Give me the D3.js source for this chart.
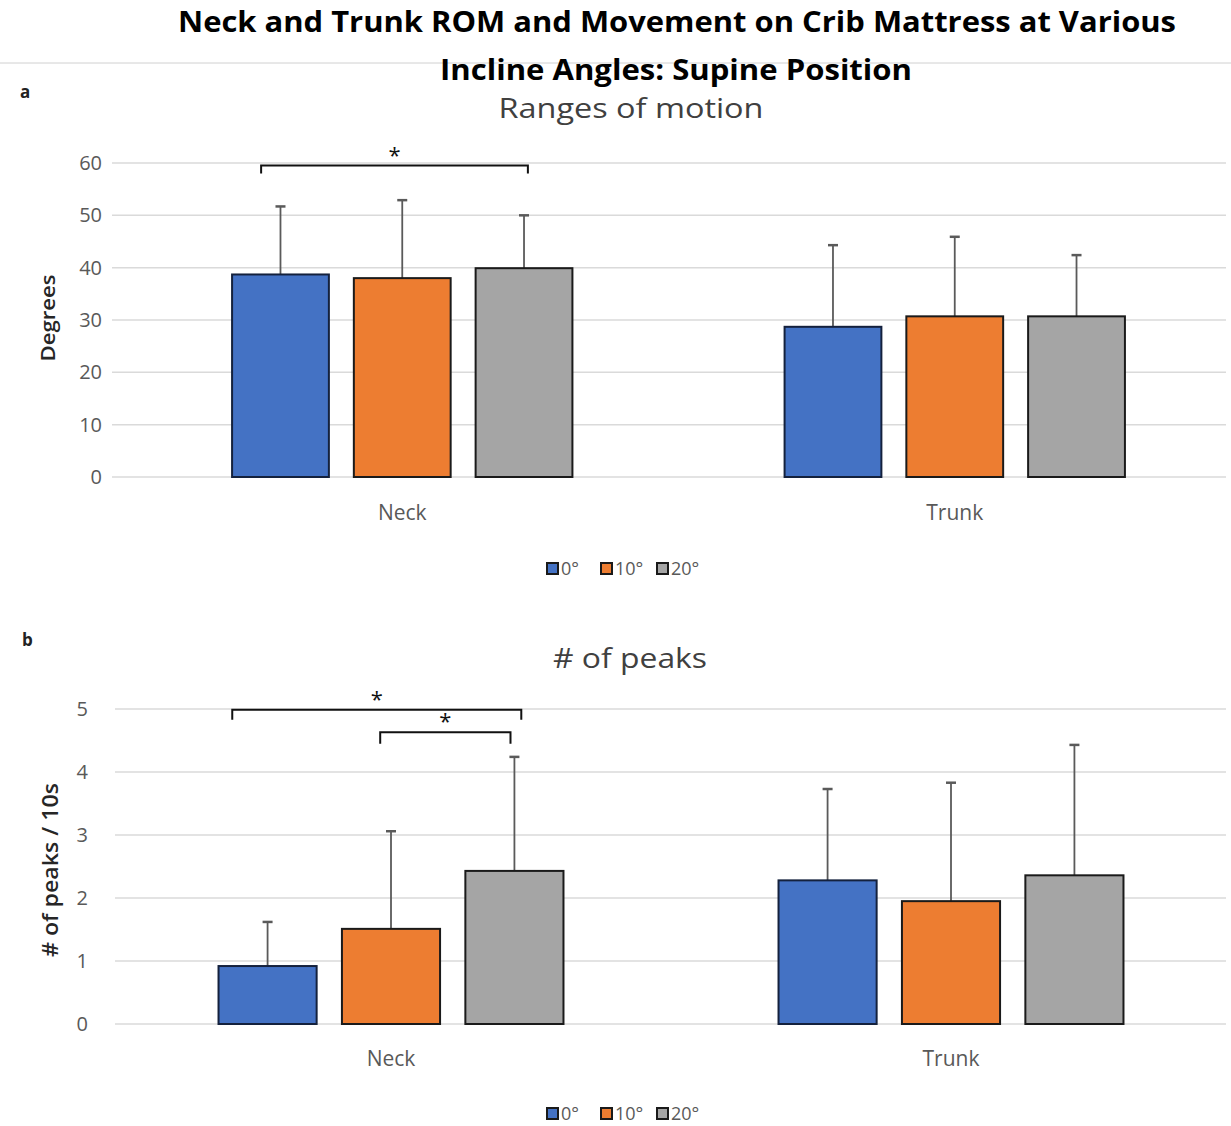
<!DOCTYPE html>
<html>
<head>
<meta charset="utf-8">
<script src="https://cdn.jsdelivr.net/npm/d3@7"></script>
<style>
  body { margin: 0; background: #fff; }
  svg { display: block; font-family: "Open Sans", "Noto Sans", sans-serif; }
</style>
</head>
<body>
<div id="chart"></div>
<script>
var W = 1231, H = 1126;

var categories = ["Neck", "Trunk"];
var series = ["0°", "10°", "20°"];
var colors = ["#4472c4", "#ed7d31", "#a5a5a5"];
var strokes = ["#14213d", "#1a1a1a", "#1a1a1a"];

// panel a: ranges of motion (degrees), rows = category, cols = series
var romMean = [[38.7, 38.0, 39.9], [28.7, 30.7, 30.7]];
var romSD   = [[13.0, 14.9, 10.1], [15.6, 15.2, 11.7]];
var romTicks = [0, 10, 20, 30, 40, 50, 60];

// panel b: number of peaks per 10 s
var peakMean = [[0.92, 1.51, 2.43], [2.28, 1.95, 2.36]];
var peakSD   = [[0.70, 1.55, 1.81], [1.45, 1.88, 2.07]];
var peakTicks = [0, 1, 2, 3, 4, 5];

// significance brackets: [category, fromSeries, fromPos, toSeries, toPos, top, bottom]
var romSig = [["Neck", "0°", 0.30, "20°", 0.54, 59.5, 58.0]];
var peakSig = [["Neck", "0°", 0.14, "20°", 0.57, 4.99, 4.83],
               ["Neck", "10°", 0.39, "20°", 0.46, 4.63, 4.45]];

var svg = d3.select("#chart").append("svg")
  .attr("width", W).attr("height", H);

// header
svg.append("line")
  .attr("x1", 0).attr("x2", W).attr("y1", 63).attr("y2", 63)
  .attr("stroke", "#d0d0d0").attr("stroke-width", 1);

svg.append("text")
  .attr("x", 677).attr("y", 32)
  .attr("text-anchor", "middle")
  .attr("font-size", 28).attr("font-weight", "bold")
  .attr("textLength", 998).attr("lengthAdjust", "spacingAndGlyphs")
  .text("Neck and Trunk ROM and Movement on Crib Mattress at Various");

svg.append("text")
  .attr("x", 676).attr("y", 80)
  .attr("text-anchor", "middle")
  .attr("font-size", 28).attr("font-weight", "bold")
  .attr("textLength", 472).attr("lengthAdjust", "spacingAndGlyphs")
  .text("Incline Angles: Supine Position");

function drawPanel(p) {
  var g = svg.append("g");

  g.append("text")
    .attr("x", p.letterX).attr("y", p.letterY)
    .attr("font-size", 17).attr("font-weight", "bold").attr("fill", "#222")
    .text(p.letter);

  g.append("text")
    .attr("x", p.titleX).attr("y", p.titleY)
    .attr("text-anchor", "middle")
    .attr("font-size", 28).attr("fill", "#404040")
    .attr("textLength", p.titleLen).attr("lengthAdjust", "spacingAndGlyphs")
    .text(p.title);

  var y = d3.scaleLinear().domain(p.domain).range([p.y0, p.y1]);

  var x0 = d3.scaleBand()
    .domain(categories)
    .range([p.left, p.right])
    .paddingInner(0.384)
    .paddingOuter(0.192);

  var x1 = d3.scaleBand()
    .domain(series)
    .range([0, x0.bandwidth()])
    .paddingInner(0.205);

  // gridlines
  g.selectAll(".grid")
    .data(p.ticks)
    .enter().append("line")
      .attr("x1", p.gridLeft).attr("x2", p.gridRight)
      .attr("y1", function(d) { return y(d) })
      .attr("y2", function(d) { return y(d) })
      .attr("stroke", "#dadada").attr("stroke-width", 1.5);

  // y axis (labels only)
  var yAxis = g.append("g")
    .attr("transform", "translate(" + p.tickX + ",0)")
    .call(d3.axisLeft(y).tickValues(p.ticks).tickFormat(d3.format("d")).tickSize(0).tickPadding(0));
  yAxis.select(".domain").remove();
  yAxis.selectAll("text")
    .attr("font-size", 20).attr("fill", "#595959")
    .attr("font-family", "Open Sans, sans-serif");

  g.append("text")
    .attr("transform", "translate(" + p.ylabX + "," + p.ylabY + ") rotate(-90)")
    .attr("text-anchor", "middle")
    .attr("font-size", p.ylabSize).attr("font-weight", 600).attr("fill", "#262626")
    .attr("textLength", p.ylabLen).attr("lengthAdjust", "spacingAndGlyphs")
    .text(p.ylab);

  // x axis (category labels only)
  var xAxis = g.append("g")
    .attr("transform", "translate(0," + p.y0 + ")")
    .call(d3.axisBottom(x0).tickSize(0).tickPadding(p.catPad));
  xAxis.select(".domain").remove();
  xAxis.selectAll("text")
    .attr("font-size", 21).attr("fill", "#595959")
    .attr("font-family", "Open Sans, sans-serif");

  var rows = [];
  categories.forEach(function(c, i) {
    series.forEach(function(s, j) {
      rows.push({ cat: c, ser: s, j: j, mean: p.mean[i][j], sd: p.sd[i][j] });
    });
  });

  // error bars (upper only)
  var eb = g.selectAll(".err").data(rows).enter().append("g");
  eb.append("line")
    .attr("x1", function(d) { return x0(d.cat) + x1(d.ser) + x1.bandwidth() / 2 })
    .attr("x2", function(d) { return x0(d.cat) + x1(d.ser) + x1.bandwidth() / 2 })
    .attr("y1", function(d) { return y(d.mean) })
    .attr("y2", function(d) { return y(d.mean + d.sd) })
    .attr("stroke", "#5a5a5a").attr("stroke-width", 1.8);
  eb.append("line")
    .attr("x1", function(d) { return x0(d.cat) + x1(d.ser) + x1.bandwidth() / 2 - 5 })
    .attr("x2", function(d) { return x0(d.cat) + x1(d.ser) + x1.bandwidth() / 2 + 5 })
    .attr("y1", function(d) { return y(d.mean + d.sd) })
    .attr("y2", function(d) { return y(d.mean + d.sd) })
    .attr("stroke", "#5a5a5a").attr("stroke-width", 2.5);

  // bars
  g.selectAll(".bar").data(rows).enter().append("rect")
    .attr("x", function(d) { return x0(d.cat) + x1(d.ser) })
    .attr("y", function(d) { return y(d.mean) })
    .attr("width", x1.bandwidth())
    .attr("height", function(d) { return y(0) - y(d.mean) })
    .attr("fill", function(d) { return colors[d.j] })
    .attr("stroke", function(d) { return strokes[d.j] })
    .attr("stroke-width", 2);

  // significance brackets
  p.sig.forEach(function(s) {
    var xa = x0(s[0]) + x1(s[1]) + s[2] * x1.bandwidth();
    var xb = x0(s[0]) + x1(s[3]) + s[4] * x1.bandwidth();
    var yt = y(s[5]), yb = y(s[6]);
    g.append("path")
      .attr("d", "M" + xa + "," + yb + "V" + yt + "H" + xb + "V" + yb)
      .attr("fill", "none").attr("stroke", "#111").attr("stroke-width", 2);
    g.append("text")
      .attr("x", (xa + xb) / 2).attr("y", yt - 3)
      .attr("text-anchor", "middle")
      .attr("font-size", 22).attr("fill", "#111")
      .text("*");
  });

  // legend
  var leg = g.append("g").attr("transform", "translate(0," + p.legY + ")");
  var legX = [547, 601, 657];
  series.forEach(function(s, j) {
    leg.append("rect")
      .attr("x", legX[j]).attr("y", -12)
      .attr("width", 11).attr("height", 11)
      .attr("fill", colors[j]).attr("stroke", "#1a1a1a").attr("stroke-width", 2);
    leg.append("text")
      .attr("x", legX[j] + 14).attr("y", 0)
      .attr("font-size", 18).attr("fill", "#595959")
      .text(s);
  });
}

drawPanel({
  letter: "a", letterX: 20, letterY: 98,
  title: "Ranges of motion", titleX: 631, titleY: 118, titleLen: 265,
  domain: [0, 60], y0: 477, y1: 163, ticks: romTicks,
  left: 126, right: 1231, gridLeft: 112, gridRight: 1226,
  tickX: 102, ylab: "Degrees", ylabX: 55, ylabY: 318, ylabSize: 20, ylabLen: 87,
  catPad: 28,
  mean: romMean, sd: romSD, sig: romSig, legY: 575
});

drawPanel({
  letter: "b", letterX: 22, letterY: 646,
  title: "# of peaks", titleX: 630, titleY: 668, titleLen: 154,
  domain: [0, 5], y0: 1024, y1: 709, ticks: peakTicks,
  left: 111, right: 1231, gridLeft: 115, gridRight: 1226,
  tickX: 88, ylab: "# of peaks / 10s", ylabX: 58, ylabY: 870, ylabSize: 21, ylabLen: 174,
  catPad: 27,
  mean: peakMean, sd: peakSD, sig: peakSig, legY: 1120
});
</script>
</body>
</html>
